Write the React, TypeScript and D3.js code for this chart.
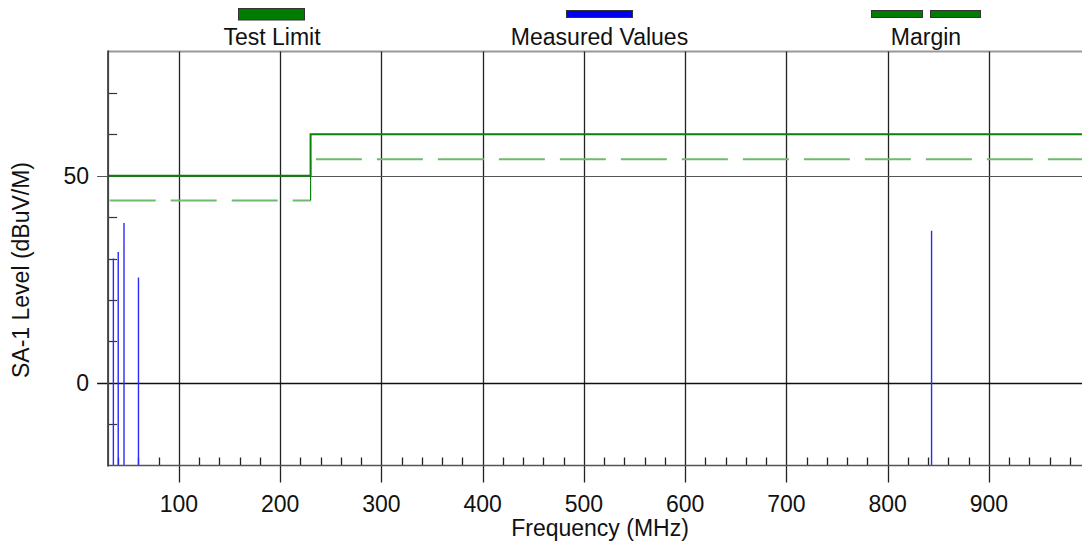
import React from "react";
import * as d3 from "d3";

const xMajorTicks = [100, 200, 300, 400, 500, 600, 700, 800, 900];
const xMinorTicks = [40, 60, 80, 120, 140, 160, 180, 220, 240, 260, 280, 320, 340, 360, 380, 420, 440, 460, 480, 520, 540, 560, 580, 620, 640, 660, 680, 720, 740, 760, 780, 820, 840, 860, 880, 920, 940, 960, 980];
const yMajorTicks = [0, 50];
const yMinorTicks = [-10, 10, 20, 30, 40, 60, 70];

const limitFreqLow = [30, 230];
const limitValsLow = [50, 50];
const limitFreqHigh = [230, 1000];
const limitValsHigh = [60, 60];
const marginFreqLow = [30, 230];
const marginValsLow = [44, 44];
const marginFreqHigh = [230, 1000];
const marginValsHigh = [54, 54];

const measFreq = [35.2, 40.0, 45.7, 60.0, 843.4];
const measVals = [30.0, 31.6, 38.6, 25.4, 36.7];

const legendLabels = ["Test Limit", "Measured Values", "Margin"];

const W = 1082;
const H = 541;
const FONT = "'Liberation Sans', Arial, sans-serif";
const FS = 23;

export default function App() {
  const x = d3.scaleLinear().domain([30, 1000]).range([108.1, 1090.1]);
  const y = d3.scaleLinear().domain([-20, 80]).range([465.5, 51.5]);
  const left = x(30);
  const right = W;
  const top = y(80);
  const bottom = y(-20);

  const line = d3
    .line<[number, number]>()
    .x((d) => x(d[0]))
    .y((d) => y(d[1]));

  const pts = (fs: number[], vs: number[]) => fs.map((f, i) => [f, vs[i]] as [number, number]);

  const green = "#0a820a";
  const lightGreen = "#6cbc6c";

  return (
    <div style={{ position: "absolute", left: 0, top: 0 }}>
      <svg width={W} height={H} style={{ display: "block", background: "#fff" }} fontFamily={FONT}>
        {/* legend */}
        <rect x={238.5} y={8.5} width={66} height={11.5} fill="#007d00" stroke="#333" strokeWidth={1} />
        <rect x={566.5} y={10.5} width={66} height={7} fill="#0000f0" stroke="#333" strokeWidth={1} />
        <rect x={871.5} y={10.5} width={51} height={7} fill="#007d00" stroke="#333" strokeWidth={1} />
        <rect x={930.5} y={10.5} width={50} height={7} fill="#007d00" stroke="#333" strokeWidth={1} />
        <text x={272} y={45} textAnchor="middle" fontSize={FS} fill="#111">{legendLabels[0]}</text>
        <text x={599.5} y={45} textAnchor="middle" fontSize={FS} fill="#111">{legendLabels[1]}</text>
        <text x={926} y={45} textAnchor="middle" fontSize={FS} fill="#111">{legendLabels[2]}</text>

        {/* top border */}
        <line x1={left} x2={right} y1={top} y2={top} stroke="#999" strokeWidth={2} />

        {/* vertical grid lines + major x ticks */}
        {xMajorTicks.map((t) => (
          <line key={"vx" + t} x1={Math.round(x(t)) + 0.5} x2={Math.round(x(t)) + 0.5} y1={top} y2={bottom + 17} stroke="#222" strokeWidth={1.3} />
        ))}
        {/* minor x ticks */}
        {xMinorTicks.map((t) => (
          <line key={"mx" + t} x1={Math.round(x(t)) + 0.5} x2={Math.round(x(t)) + 0.5} y1={bottom} y2={bottom - 8} stroke="#222" strokeWidth={1.3} />
        ))}

        {/* horizontal grid lines */}
        <line x1={left - 11} x2={right} y1={Math.round(y(50)) + 0.5} y2={Math.round(y(50)) + 0.5} stroke="#555" strokeWidth={1} />
        <line x1={left - 11} x2={right} y1={Math.round(y(0)) + 0.5} y2={Math.round(y(0)) + 0.5} stroke="#111" strokeWidth={1.5} />
        {/* minor y ticks */}
        {yMinorTicks.map((t) => (
          <line key={"my" + t} x1={left} x2={left + 9} y1={Math.round(y(t)) + 0.5} y2={Math.round(y(t)) + 0.5} stroke="#333" strokeWidth={1.2} />
        ))}

        {/* margin (dashed) */}
        <path d={line(pts(marginFreqLow, marginValsLow)) || ""} fill="none" stroke={lightGreen} strokeWidth={2} strokeDasharray="46,15" style={{ strokeDashoffset: -1.6 }} />
        <path d={line(pts(marginFreqHigh, marginValsHigh)) || ""} fill="none" stroke={lightGreen} strokeWidth={2} strokeDasharray="46,15" style={{ strokeDashoffset: 55.7 }} />
        <line x1={x(230)} x2={x(230)} y1={y(marginValsLow[1])} y2={y(marginValsHigh[0])} stroke={green} strokeWidth={1.2} />

        {/* test limit */}
        <path
          d={line([...pts(limitFreqLow, limitValsLow), ...pts(limitFreqHigh, limitValsHigh)]) || ""}
          fill="none"
          stroke={green}
          strokeWidth={2}
        />

        {/* measured values */}
        {measFreq.map((f, i) => (
          <line key={"m" + i} x1={x(f)} x2={x(f)} y1={bottom} y2={y(measVals[i])} stroke="#2a2aff" strokeWidth={1.4} />
        ))}

        {/* axes lines */}
        <line x1={left} x2={right} y1={bottom} y2={bottom} stroke="#555" strokeWidth={1.5} />
        <line x1={left} x2={left} y1={top - 1} y2={bottom + 1} stroke="#444" strokeWidth={2} />

        {/* y tick labels */}
        {yMajorTicks.map((t) => (
          <text key={"yl" + t} x={89} y={y(t) + 8} textAnchor="end" fontSize={FS} fill="#111">{t}</text>
        ))}
        {/* x tick labels */}
        {xMajorTicks.map((t) => (
          <text key={"xl" + t} x={x(t)} y={512} textAnchor="middle" fontSize={FS} fill="#111">{t}</text>
        ))}

        {/* axis titles */}
        <text x={600} y={536} textAnchor="middle" fontSize={FS} fill="#111">Frequency (MHz)</text>
        <text transform={`translate(29,${270}) rotate(-90)`} textAnchor="middle" fontSize={FS} fill="#111">SA-1 Level (dBuV/M)</text>
      </svg>
    </div>
  );
}
